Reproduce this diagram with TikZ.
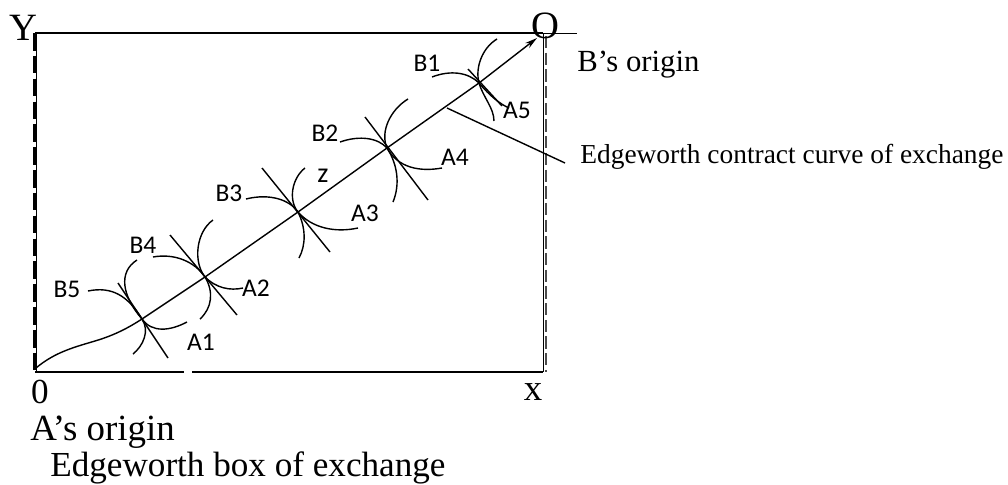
\documentclass[tikz,border=0pt]{standalone}
\usepackage{fontspec}
\setmainfont{Liberation Serif}
\newfontfamily\labelfont{Carlito}
\usetikzlibrary{arrows.meta}
\tikzset{
  topedge/.style={draw=black, line width=1.5pt},
  boxedge/.style={draw=black, line width=1.1pt},
  thinedge/.style={draw=black, line width=0.5pt},
  leftdash/.style={draw=black, line width=1.6pt, dash pattern=on 10pt off 3pt},
  rightdash/.style={draw=black!70, line width=0.9pt, dash pattern=on 7pt off 2.5pt},
  icurve/.style={draw=black, line width=0.8pt},
  tangentline/.style={draw=black, line width=0.8pt},
  ccurve/.style={draw=black, line width=0.8pt, -{Stealth[length=7pt, width=3.6pt]}},
  ptlabel/.style={font=\labelfont\fontsize{14.5}{16}\selectfont, inner sep=0pt},
  axislabel/.style={font=\fontsize{20}{22}\selectfont, inner sep=0pt},
  caption/.style={font=\fontsize{20}{22}\selectfont, inner sep=0pt, anchor=west},
}

\begin{document}
\begin{tikzpicture}[x=0.02cm, y=-0.02cm]
\useasboundingbox (0,0) rectangle (1008,484);
% the box
\draw[topedge] (35,33) -- (543,33);
\draw[thinedge] (543,33) -- (577,33);
\draw[thinedge] (36,33) -- (36,372);
\draw[leftdash] (34.5,33) -- (34.5,372);
\draw[thinedge] (543,33) -- (543,372);
\draw[rightdash] (546,36) -- (546,372);
\draw[boxedge] (35,372) -- (184,372);
\draw[boxedge] (192,372) -- (543,372);
% points of tangency
\coordinate (P1) at (142,319);
\coordinate (P2) at (205,277);
\coordinate (P3) at (298,212);
\coordinate (P4) at (387,148);
\coordinate (P5) at (479,83);
\coordinate (tip) at (537,38);
% contract curve
\draw[ccurve] (36,368) .. controls (55,352) and (75,347) .. (95,341)
  .. controls (115,335) and (128,328) .. (P1) -- (P2) -- (P3) -- (P4) -- (P5) -- (tip);
% indifference curves and tangents at P1
\draw[icurve] (88,291) .. controls (112,286) and (128,296) .. (P1) .. controls (150,331) and (143,346) .. (133,354);
\draw[icurve] (137,260) .. controls (118,272) and (122,296) .. (P1) .. controls (152,333) and (170,331) .. (187,322);
\draw[tangentline] (118,283) -- (168,358);
% at P2
\draw[icurve] (153,257) .. controls (175,253) and (195,262) .. (P2) .. controls (214,292) and (212,308) .. (200,319);
\draw[icurve] (213,220) .. controls (196,232) and (193,262) .. (P2) .. controls (216,288) and (230,291) .. (243,288);
\draw[tangentline] (170,235) -- (237,315);
% at P3
\draw[icurve] (246,199) .. controls (270,193) and (290,200) .. (P3) .. controls (306,228) and (306,245) .. (299,258);
\draw[icurve] (305,168) .. controls (292,178) and (288,200) .. (P3) .. controls (312,228) and (335,233) .. (358,228);
\draw[tangentline] (262,168) -- (330,252);
% at P4
\draw[icurve] (340,142) .. controls (360,135) and (378,138) .. (P4) .. controls (398,165) and (400,185) .. (393,202);
\draw[icurve] (408,99) .. controls (390,110) and (380,132) .. (P4) .. controls (398,168) and (420,172) .. (442,168);
\draw[tangentline] (365,117) -- (428,200);
% at P5
\draw[icurve] (432,77) .. controls (450,70) and (468,72) .. (P5) .. controls (490,96) and (500,104) .. (509,108);
\draw[icurve] (497,39) .. controls (482,48) and (475,68) .. (P5) .. controls (483,97) and (494,108) .. (494,121);
\draw[tangentline] (468,69) -- (502,106);
% curve labels
\node[ptlabel] (b1) at (427,63) {B1};
\node[ptlabel] (b2) at (325,133) {B2};
\node[ptlabel] (b3) at (229,193) {B3};
\node[ptlabel] (b4) at (143,245) {B4};
\node[ptlabel] (b5) at (67,289) {B5};
\node[ptlabel] (a1) at (201,342) {A1};
\node[ptlabel] (a2) at (256,288) {A2};
\node[ptlabel] (a3) at (365,213) {A3};
\node[ptlabel] (a4) at (455,157) {A4};
\node[ptlabel] (a5) at (517,110) {A5};
\node[ptlabel, font=\labelfont\fontsize{16}{18}\selectfont] (zlab) at (323,176) {z};
% axes and origins
\node[axislabel, font=\fontsize{22}{24}\selectfont] (ylab) at (23,28) {Y};
\node[axislabel, font=\fontsize{22}{24}\selectfont] (olab) at (545,26) {O};
\node[axislabel] (zero) at (40,392) {0};
\node[axislabel, font=\fontsize{21}{23}\selectfont] (xlab) at (533,392) {x};
\node[caption, font=\fontsize{17.5}{19}\selectfont] (borigin) at (577,65) {B’s origin};
\node[caption, font=\fontsize{15.6}{17}\selectfont] (cclab) at (580,157) {Edgeworth contract curve of exchange};
\node[caption, font=\fontsize{21}{23}\selectfont] (aorigin) at (30,432) {A’s origin};
\node[caption] (boxlab) at (50,468) {Edgeworth box of exchange};
% pointer to the contract curve
\coordinate (ptr) at (447,108);
\coordinate (ptrend) at (565,163);
\draw[tangentline] (ptr) -- (ptrend);
\end{tikzpicture}
\end{document}
